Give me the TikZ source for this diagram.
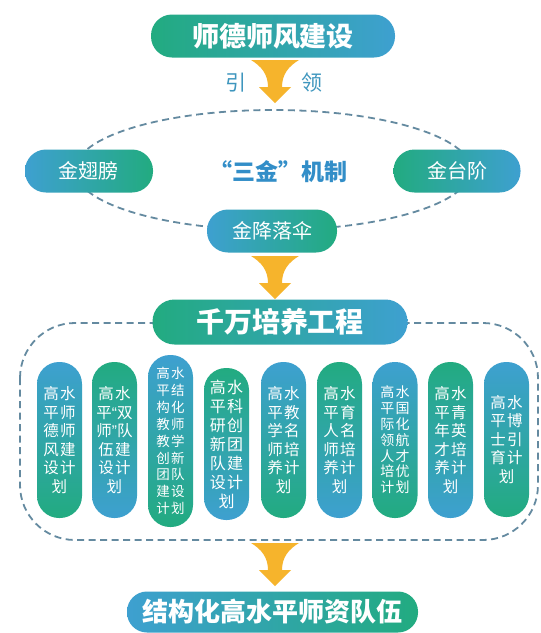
\documentclass[tikz,border=0pt]{standalone}
\usepackage{fontspec}
\newfontfamily\cjk{Noto Sans CJK SC}
\newfontfamily\cjkblack{Noto Sans CJK SC Black}
\newfontfamily\latinq{Liberation Sans}
\definecolor{tgreen}{RGB}{34,171,128}
\definecolor{tblue}{RGB}{62,160,208}
\definecolor{arrowy}{RGB}{246,180,44}
\definecolor{dashc}{RGB}{100,138,160}
\definecolor{titleblue}{RGB}{50,142,200}
\definecolor{lblblue}{RGB}{62,150,190}
\newcommand{\pr}[2]{#1\hspace{1.2pt}#2}
\tikzset{
  hpill/.style={rounded corners=21pt, minimum height=43pt, inner sep=0pt, text=white},
  gl/.style={left color=tgreen, right color=tblue},
  bl/.style={left color=tblue, right color=tgreen},
  vpill/.style={rounded corners=22pt, minimum width=45pt, inner sep=0pt, text=white, align=center},
  tb/.style={top color=tblue, bottom color=tgreen},
  tg/.style={top color=tgreen, bottom color=tblue},
  dline/.style={draw=dashc, line width=1.8pt, dash pattern=on 7pt off 4.5pt},
  vt/.style={font=\cjk\fontsize{15.5}{18.5}\selectfont},
  funnel/.pic={\fill[arrowy] (-24,0) .. controls (-14,6) and (-7,14) .. (-7,27) -- (-16,27) -- (0,43) -- (16,27) -- (7,27) .. controls (7,14) and (14,6) .. (24,0) -- cycle;}
}
\begin{document}
\begin{tikzpicture}[x=1pt,y=-1pt]
\fill[white] (0,0) rectangle (541,633);
\useasboundingbox (0,0) rectangle (541,633);
% dashed outlines
\draw[dline] (273,170) ellipse [x radius=198pt, y radius=60pt];
\draw[dline, rounded corners=55pt] (20,323) rectangle (538,540);
% arrows
\pic at (275,60) {funnel};
\pic at (275,256) {funnel};
\pic at (275,543) {funnel};
% top
\node[hpill, gl, minimum width=244pt, font=\cjkblack\fontsize{27}{30}\selectfont] (top) at (273,36) {师德师风建设};
\node[text=lblblue, font=\cjk\fontsize{21}{24}\selectfont] (yin) at (236,83) {引};
\node[text=lblblue, font=\cjk\fontsize{21}{24}\selectfont] (ling) at (312,83) {领};
% three gold
\node[text=titleblue, font=\cjkblack\fontsize{23}{26}\selectfont] (sanjin) at (278,172) {“三金”机制};
\node[hpill, bl, minimum width=128pt, font=\cjk\fontsize{20}{24}\selectfont] (chi) at (89,171) {金翅膀};
\node[hpill, gl, minimum width=127pt, font=\cjk\fontsize{20}{24}\selectfont] (tai) at (457,171) {金台阶};
\node[hpill, bl, minimum width=130pt, font=\cjk\fontsize{20}{24}\selectfont] (jiang) at (272,231) {金降落伞};
% project
\node[hpill, gl, minimum width=255pt, minimum height=45pt, rounded corners=22pt, font=\cjkblack\fontsize{28}{30}\selectfont] (qw) at (280,322) {千万培养工程};
% vertical pills
\node[vpill, tb, minimum height=156pt, vt] (p1) at (59.5,440) {\pr{高}{水}\\\pr{平}{师}\\\pr{德}{师}\\\pr{风}{建}\\\pr{设}{计}\\划};
\node[vpill, tg, minimum height=156pt, vt] (p2) at (114.5,440) {\pr{高}{水}\\平{\latinq“}双\\师{\latinq”}队\\\pr{伍}{建}\\\pr{设}{计}\\划};
\node[vpill, tb, minimum height=172pt, font=\cjk\fontsize{13.5}{16.9}\selectfont] (p3) at (170.5,441) {\pr{高}{水}\\\pr{平}{结}\\\pr{构}{化}\\\pr{教}{师}\\\pr{教}{学}\\\pr{创}{新}\\\pr{团}{队}\\\pr{建}{设}\\\pr{计}{划}};
\node[vpill, tg, minimum height=152pt, font=\cjk\fontsize{16}{19}\selectfont] (p4) at (226.5,444) {\pr{高}{水}\\\pr{平}{科}\\\pr{研}{创}\\\pr{新}{团}\\\pr{队}{建}\\\pr{设}{计}\\划};
\node[vpill, tb, minimum height=156pt, vt] (p5) at (283.5,440) {\pr{高}{水}\\\pr{平}{教}\\\pr{学}{名}\\\pr{师}{培}\\\pr{养}{计}\\划};
\node[vpill, tg, minimum height=156pt, vt] (p6) at (339.5,440) {\pr{高}{水}\\\pr{平}{育}\\\pr{人}{名}\\\pr{师}{培}\\\pr{养}{计}\\划};
\node[vpill, tb, minimum height=156pt, font=\cjk\fontsize{14}{15.8}\selectfont] (p7) at (395,440) {\pr{高}{水}\\\pr{平}{国}\\\pr{际}{化}\\\pr{领}{航}\\\pr{人}{才}\\\pr{培}{优}\\\pr{计}{划}};
\node[vpill, tg, minimum height=156pt, vt] (p8) at (450.5,440) {\pr{高}{水}\\\pr{平}{青}\\\pr{年}{英}\\\pr{才}{培}\\\pr{养}{计}\\划};
\node[vpill, tb, minimum height=155pt, vt] (p9) at (506.5,439.5) {\pr{高}{水}\\\pr{平}{博}\\\pr{士}{引}\\\pr{育}{计}\\划};
% bottom
\node[hpill, bl, minimum width=291pt, minimum height=41pt, rounded corners=20pt, font=\cjkblack\fontsize{26}{30}\selectfont] (res) at (272.5,612) {结构化高水平师资队伍};
\end{tikzpicture}
\end{document}
